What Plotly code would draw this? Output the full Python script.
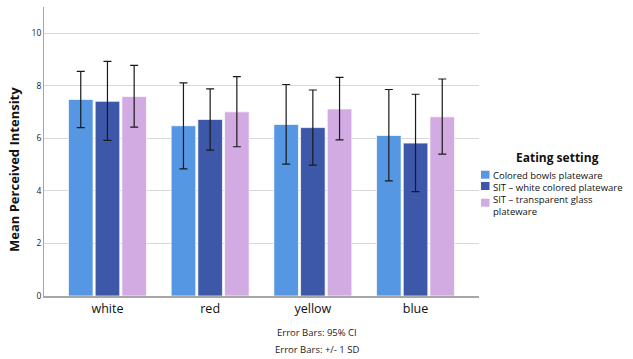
import plotly.graph_objects as go

# Plate colour conditions (x categories)
categories = ["white", "red", "yellow", "blue"]

# Eating settings (series)
series_names = [
    "Colored bowls plateware",
    "SIT – white colored plateware",
    "SIT – transparent glass plateware",
]
# Legend labels (long names wrap onto a second line)
legend_labels = [
    "Colored bowls plateware",
    "SIT – white colored plateware",
    "SIT – transparent glass<br>plateware",
]
series_colors = ["#5597E3", "#3E58A9", "#D2ABE3"]

# Mean perceived intensity per setting
mean_colored_bowls = [7.48, 6.48, 6.53, 6.11]
mean_sit_white = [7.41, 6.72, 6.41, 5.82]
mean_sit_glass = [7.59, 7.01, 7.12, 6.82]

# Error bar bounds (upper / lower)
upper_colored_bowls = [8.55, 8.11, 8.05, 7.86]
lower_colored_bowls = [6.41, 4.84, 5.02, 4.38]
upper_sit_white = [8.93, 7.88, 7.84, 7.68]
lower_sit_white = [5.92, 5.55, 4.98, 3.97]
upper_sit_glass = [8.78, 8.35, 8.32, 8.26]
lower_sit_glass = [6.43, 5.68, 5.94, 5.40]

y_ticks = [0, 2, 4, 6, 8, 10]

means = [mean_colored_bowls, mean_sit_white, mean_sit_glass]
uppers = [upper_colored_bowls, upper_sit_white, upper_sit_glass]
lowers = [lower_colored_bowls, lower_sit_white, lower_sit_glass]

FONT = "Open Sans"
W, H = 633, 359
ML, MR, MT, MB = 44, 154, 7, 63
PW, PH = W - ML - MR, H - MT - MB


def px_x(x):
    return (x - ML) / PW


def px_y(y):
    return (H - MB - y) / PH


def label(text, x, y, size, xanchor="center", **kw):
    return dict(text=text, x=px_x(x), y=px_y(y), xref="paper", yref="paper",
                xanchor=xanchor, yanchor="middle", showarrow=False,
                font=dict(size=size, color=kw.pop("color", "#111")), **kw)


fig = go.Figure()
for name, m, up, lo, col in zip(series_names, means, uppers, lowers, series_colors):
    fig.add_trace(go.Bar(
        name=name,
        x=categories,
        y=m,
        marker=dict(color=col, line=dict(color="rgba(255,255,255,0.7)", width=1)),
        error_y=dict(
            type="data",
            symmetric=False,
            array=[u - v for u, v in zip(up, m)],
            arrayminus=[v - l for v, l in zip(m, lo)],
            color="#1a1a1a",
            thickness=1.2,
            width=4,
        ),
        showlegend=False,
    ))

annotations = [
    label("<b>Mean Perceived Intensity</b>", 14, 170, 13, textangle=-90),
    label("Error Bars: 95% CI", 317, 332, 9.5, color="#222"),
    label("Error Bars: +/- 1 SD", 317, 349, 9.5, color="#222"),
    label("<b>Eating setting</b>", 557, 157, 12),
]

# Legend: colour swatches with labels
shapes = []
swatch_centers = [174.7, 186.0, 202.7]
text_centers = [175.0, 187.3, 205.5]
for lab, col, sc, tc in zip(legend_labels, series_colors, swatch_centers, text_centers):
    shapes.append(dict(type="rect", xref="paper", yref="paper",
                       x0=px_x(481), x1=px_x(489.5),
                       y0=px_y(sc + 4), y1=px_y(sc - 4),
                       fillcolor=col, line=dict(width=0)))
    annotations.append(label(lab, 491, tc, 9.5, xanchor="left", align="left"))

fig.update_layout(
    width=W, height=H,
    margin=dict(l=ML, r=MR, t=MT, b=MB, pad=0),
    paper_bgcolor="white",
    plot_bgcolor="white",
    barmode="group",
    bargap=0.22,
    bargroupgap=0.08,
    font=dict(family=FONT, color="#222"),
    annotations=annotations,
    shapes=shapes,
    xaxis=dict(
        range=[-0.618, 3.618],
        showgrid=False,
        showline=True,
        linecolor="#a6a6a6",
        linewidth=1.5,
        ticks="",
        tickfont=dict(size=12.5, color="#111"),
        zeroline=False,
    ),
    yaxis=dict(
        range=[0, 11],
        tickvals=y_ticks,
        ticktext=[str(t) for t in y_ticks],
        showgrid=True,
        gridcolor="#d8d8d8",
        gridwidth=1,
        showline=True,
        linecolor="#a6a6a6",
        linewidth=1,
        ticks="",
        tickfont=dict(size=8.5, color="#222"),
        zeroline=False,
    ),
)

fig.write_html("out.html")
